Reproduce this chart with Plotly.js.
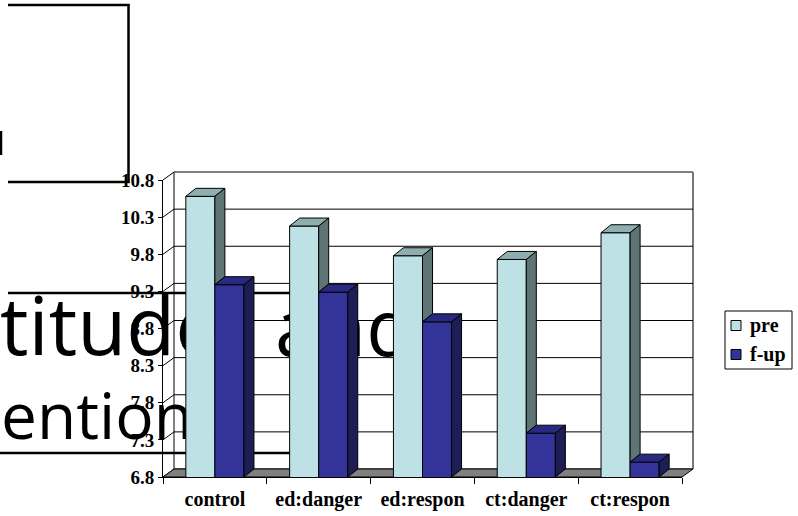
<!DOCTYPE html>
<html><head><meta charset="utf-8">
<script src="https://cdn.plot.ly/plotly-3.0.1.min.js"></script>
<style>html,body{margin:0;padding:0;background:#fff}#chart{width:798px;height:516px}</style>
</head><body><div id="chart"></div>
<script>
// ---- data ----
const categories = ['control', 'ed:danger', 'ed:respon', 'ct:danger', 'ct:respon'];
const preValues = [10.58, 10.18, 9.78, 9.73, 10.09];
const fupValues = [9.39, 9.29, 8.89, 7.39, 7.0];
const seriesNames = ['pre', 'f-up'];
const yTickValues = [6.8, 7.3, 7.8, 8.3, 8.8, 9.3, 9.8, 10.3, 10.8];
const yTickLabels = ['6.8', '7.3', '7.8', '8.3', '8.8', '9.3', '9.8', '10.3', '10.8'];
const slideWords1 = ['titude', 'and'];
const slideWords2 = ['entions'];

// ---- geometry / style ----
const W = 798, H = 516;
const M = {l: 163, r: 116, t: 180, b: 39, autoexpand: false};
const plotW = W - M.l - M.r, plotH = H - M.t - M.b;
const yMin = yTickValues[0], yMax = yTickValues[yTickValues.length - 1];
const BARGAP = 0.44;
const barW = (1 - BARGAP) / 2;
const wallDX = 11, wallDY = 8;
const barDX = 10, barDY = 8;
const px = x => (x - M.l) / plotW;
const py = y => (H - M.b - y) / plotH;
const vf = v => (v - yMin) / (yMax - yMin);
const wdx = wallDX / plotW, wdy = wallDY / plotH;
const bdx = barDX / (plotW / categories.length), bdy = barDY / (plotH / (yMax - yMin));

const C = {
  preFront: '#BDE1E4', preTop: '#8FAEB0', preSide: '#5F7575',
  fupFront: '#333399', fupTop: '#29297F', fupSide: '#1E1E57',
  floor: '#808080'
};
const serif = 'Liberation Serif, Times New Roman, serif';

const shapes = [];
// back wall
shapes.push({type: 'rect', xref: 'paper', yref: 'paper', x0: wdx, x1: 1 + wdx, y0: wdy, y1: 1 + wdy,
  fillcolor: '#ffffff', line: {color: '#000', width: 1}, layer: 'below'});
shapes.push({type: 'line', xref: 'paper', yref: 'paper', x0: 1 + wdx, x1: 1 + wdx, y0: wdy, y1: 1 + wdy,
  line: {color: '#777', width: 2}, layer: 'below'});
// gridlines on back wall + side-wall tick diagonals
yTickValues.forEach(v => {
  if (v !== yMin && v !== yMax) {
    shapes.push({type: 'line', xref: 'paper', yref: 'paper', x0: wdx, x1: 1 + wdx, y0: vf(v) + wdy, y1: vf(v) + wdy,
      line: {color: '#000', width: 1}, layer: 'below'});
  }
  shapes.push({type: 'line', xref: 'paper', yref: 'paper', x0: 0, x1: wdx, y0: vf(v), y1: vf(v) + wdy,
    line: {color: '#000', width: 1}, layer: 'below'});
});
// floor
shapes.push({type: 'path', xref: 'paper', yref: 'paper',
  path: `M0,0 L1,0 L${1 + wdx},${wdy} L${wdx},${wdy} Z`,
  fillcolor: C.floor, line: {color: '#000', width: 1}, layer: 'below'});

// slide frame fragments
const slideLine = (x0, y0, x1, y1, w) => ({type: 'line', xref: 'paper', yref: 'paper',
  x0: px(x0), y0: py(y0), x1: px(x1), y1: py(y1), line: {color: '#000', width: w}, layer: 'below'});
shapes.push(slideLine(8, 5, 129.5, 5, 2.5));
shapes.push(slideLine(128.5, 4, 128.5, 183, 2.5));
shapes.push(slideLine(8, 182, 129.5, 182, 2.5));
shapes.push(slideLine(1, 131, 1, 155, 2.5));
shapes.push(slideLine(8, 293, 292, 293, 2.5));
shapes.push(slideLine(0, 453, 292, 453, 2.5));

// slide title text (behind the chart bars)
const textBox = (txt, x0, y0, x1, y1, size) => ({type: 'rect', xref: 'paper', yref: 'paper',
  x0: px(x0), y0: py(y0), x1: px(x1), y1: py(y1), line: {width: 0}, fillcolor: 'rgba(0,0,0,0)', layer: 'below',
  label: {text: txt, textposition: 'bottom left', padding: 0,
    font: {family: 'Open Sans', size: size, color: '#000'}}});
shapes.push(textBox(slideWords1[0], -3, 280, 300, 384, 80));
shapes.push(textBox(slideWords1[1], 272, 280, 500, 384, 78));
shapes.push(textBox(slideWords2[0], -2, 380, 400, 462, 64));

// 3D faces of bars
categories.forEach((c, i) => {
  const v = preValues[i], f = fupValues[i];
  const xl = i - barW, xr = i, xl2 = i, xr2 = i + barW;
  const P = (pts) => 'M' + pts.map(p => p[0] + ',' + p[1]).join(' L') + ' Z';
  shapes.push({type: 'path', xref: 'x', yref: 'y', layer: 'above', fillcolor: C.preTop,
    line: {color: '#000', width: 1}, path: P([[xl, v], [xr, v], [xr + bdx, v + bdy], [xl + bdx, v + bdy]])});
  shapes.push({type: 'path', xref: 'x', yref: 'y', layer: 'above', fillcolor: C.preSide,
    line: {color: '#000', width: 1}, path: P([[xr, f], [xr, v], [xr + bdx, v + bdy], [xr + bdx, f + bdy]])});
  shapes.push({type: 'path', xref: 'x', yref: 'y', layer: 'above', fillcolor: C.fupTop,
    line: {color: '#000', width: 1}, path: P([[xl2, f], [xr2, f], [xr2 + bdx, f + bdy], [xl2 + bdx, f + bdy]])});
  shapes.push({type: 'path', xref: 'x', yref: 'y', layer: 'above', fillcolor: C.fupSide,
    line: {color: '#000', width: 1}, path: P([[xr2, yMin], [xr2, f], [xr2 + bdx, f + bdy], [xr2 + bdx, yMin + bdy]])});
});

// legend box (drawn manually to match the original placement)
const legendColors = [C.preFront, C.fupFront];
shapes.push({type: 'rect', xref: 'paper', yref: 'paper', x0: px(725), x1: px(792), y0: py(311), y1: py(369),
  fillcolor: '#fff', line: {color: '#000', width: 1}, layer: 'above'});
const annotations = [];
seriesNames.forEach((n, k) => {
  const cy = 325.5 + k * 29;
  shapes.push({type: 'rect', xref: 'paper', yref: 'paper', x0: px(731), x1: px(741), y0: py(cy - 5), y1: py(cy + 5),
    fillcolor: legendColors[k], line: {color: '#000', width: 1}, layer: 'above'});
  annotations.push({xref: 'paper', yref: 'paper', x: px(748), y: py(cy), xanchor: 'left', yanchor: 'middle',
    text: n, showarrow: false, font: {family: serif, size: 20, color: '#000', weight: 'bold'}});
});

const traces = [
  {type: 'bar', name: seriesNames[0], x: categories, y: preValues,
    marker: {color: C.preFront, line: {color: '#000', width: 1}}},
  {type: 'bar', name: seriesNames[1], x: categories, y: fupValues,
    marker: {color: C.fupFront, line: {color: '#000', width: 1}}}
];

const tickFont = {family: serif, size: 19, color: '#000', weight: 'bold'};
const layout = {
  width: W, height: H, margin: M,
  paper_bgcolor: '#fff', plot_bgcolor: 'rgba(0,0,0,0)',
  barmode: 'group', bargap: BARGAP, bargroupgap: 0,
  showlegend: false,
  xaxis: {type: 'category', tickfont: Object.assign({}, tickFont, {size: 20}), showline: true, linecolor: '#000', linewidth: 1,
    ticks: 'outside', tickson: 'boundaries', ticklen: 6, tickcolor: '#000', showgrid: false, zeroline: false,
    ticklabelstandoff: 4, fixedrange: true},
  yaxis: {range: [yMin, yMax], tickvals: yTickValues, ticktext: yTickLabels, tickfont: tickFont,
    showline: true, linecolor: '#000', linewidth: 1, ticks: 'outside', ticklen: 4, tickcolor: '#000',
    showgrid: false, zeroline: false, fixedrange: true},
  shapes: shapes,
  annotations: annotations
};
Plotly.newPlot('chart', traces, layout, {staticPlot: true, displayModeBar: false});
</script></body></html>
